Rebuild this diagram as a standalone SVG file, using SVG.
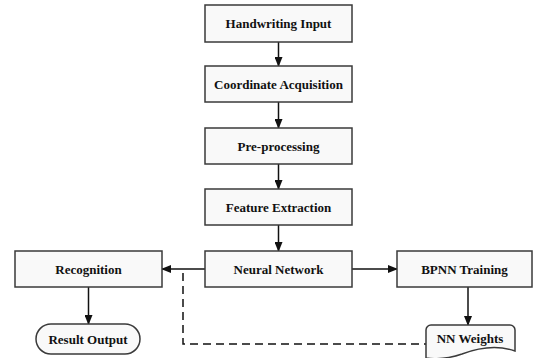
<svg xmlns="http://www.w3.org/2000/svg" width="534" height="358" viewBox="0 0 534 358">
<defs>
<style>
.box{fill:#f9f9f9;stroke:#3a3a3a;stroke-width:1.5}
.lbl{font-family:"Liberation Serif","Times New Roman",serif;font-weight:bold;font-size:13px;fill:#111;text-anchor:middle}
.ln{stroke:#111;stroke-width:1.5;fill:none}
.dash{stroke:#111;stroke-width:1.5;fill:none;stroke-dasharray:8,5}
</style>
<marker id="ah" markerWidth="10" markerHeight="8" refX="9" refY="4" orient="auto" markerUnits="userSpaceOnUse">
<path d="M0,0 L10,4 L0,8 Z" fill="#111"/>
</marker>
</defs>
<rect width="534" height="358" fill="#fff"/>
<g id="connectors">
<line class="ln" x1="278.5" y1="42" x2="278.5" y2="66" marker-end="url(#ah)"/>
<line class="ln" x1="278.5" y1="102" x2="278.5" y2="128" marker-end="url(#ah)"/>
<line class="ln" x1="278.5" y1="164" x2="278.5" y2="189" marker-end="url(#ah)"/>
<line class="ln" x1="278.5" y1="225" x2="278.5" y2="251" marker-end="url(#ah)"/>
<line class="ln" x1="205" y1="269" x2="162" y2="269" marker-end="url(#ah)"/>
<line class="ln" x1="352" y1="269" x2="397" y2="269" marker-end="url(#ah)"/>
<line class="ln" x1="88.5" y1="287" x2="88.5" y2="324" marker-end="url(#ah)"/>
<line class="ln" x1="468" y1="287" x2="468" y2="325" marker-end="url(#ah)"/>
<polyline class="dash" points="183,273 183,344 426,344"/>
</g>
<g id="handwriting-input">
<rect class="box" x="205" y="5" width="147" height="37"/>
<text class="lbl" x="278.5" y="28">Handwriting Input</text>
</g>
<g id="coordinate-acquisition">
<rect class="box" x="205" y="66" width="147" height="36"/>
<text class="lbl" x="278.5" y="88.5">Coordinate Acquisition</text>
</g>
<g id="pre-processing">
<rect class="box" x="205" y="128" width="147" height="36"/>
<text class="lbl" x="278.5" y="150.5">Pre-processing</text>
</g>
<g id="feature-extraction">
<rect class="box" x="205" y="189" width="147" height="36"/>
<text class="lbl" x="278.5" y="211.5">Feature Extraction</text>
</g>
<g id="neural-network">
<rect class="box" x="205" y="251" width="147" height="36"/>
<text class="lbl" x="278.5" y="273.5">Neural Network</text>
</g>
<g id="recognition">
<rect class="box" x="15" y="251" width="147" height="36"/>
<text class="lbl" x="88.5" y="273.5">Recognition</text>
</g>
<g id="bpnn-training">
<rect class="box" x="397" y="251" width="135" height="36"/>
<text class="lbl" x="464.5" y="273.5">BPNN Training</text>
</g>
<g id="result-output">
<rect class="box" x="36" y="324" width="104" height="30" rx="15" ry="15"/>
<text class="lbl" x="88" y="343.5">Result Output</text>
</g>
<g id="nn-weights">
<path class="box" d="M426,330 A5,5 0 0 1 431,325 H510 A5,5 0 0 1 515,330 V351 C498,345 478,348 462,354 C450,358 438,360 426,358 Z"/>
<text class="lbl" x="470" y="343">NN Weights</text>
</g>
</svg>
